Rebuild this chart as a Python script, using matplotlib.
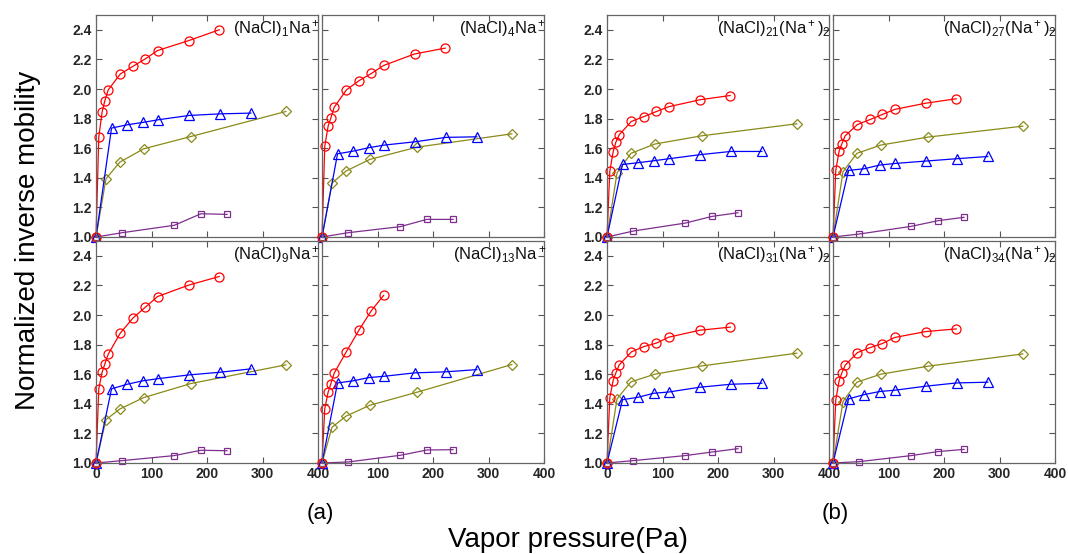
import numpy as np
import matplotlib.pyplot as plt

plt.rcParams['font.family'] = ['Liberation Sans', 'DejaVu Sans']
plt.rcParams['mathtext.default'] = 'regular'

# panel order: top row left->right, then bottom row left->right
titles = [r'(NaCl)$_1$Na$^+$', r'(NaCl)$_4$Na$^+$',
          r'(NaCl)$_{21}$(Na$^+$)$_2$', r'(NaCl)$_{27}$(Na$^+$)$_2$',
          r'(NaCl)$_9$Na$^+$', r'(NaCl)$_{13}$Na$^+$',
          r'(NaCl)$_{31}$(Na$^+$)$_2$', r'(NaCl)$_{34}$(Na$^+$)$_2$']

red_x = [0, 5, 11, 16, 22, 44, 67, 89, 111, 167, 222]
blue_x = [0, 28, 56, 84, 112, 167, 223, 279]
olive_x = [0, 18, 43, 86, 171, 342]
purple_x = [0, 47, 141, 189, 236]

red_y = [
    [1.0, 1.675, 1.844, 1.922, 1.994, 2.102, 2.154, 2.204, 2.26, 2.327, 2.40],
    [1.0, 1.614, 1.749, 1.805, 1.877, 1.994, 2.057, 2.105, 2.159, 2.237, 2.276],
    [1.0, 1.443, 1.574, 1.641, 1.691, 1.781, 1.814, 1.848, 1.880, 1.927, 1.956],
    [1.0, 1.450, 1.580, 1.630, 1.684, 1.760, 1.794, 1.828, 1.862, 1.904, 1.934],
    [1.0, 1.501, 1.613, 1.670, 1.735, 1.879, 1.981, 2.053, 2.125, 2.202, 2.260],
    [1.0, 1.368, 1.478, 1.537, 1.607, 1.753, 1.900, 2.030, 2.132],
    [1.0, 1.440, 1.557, 1.609, 1.663, 1.751, 1.787, 1.810, 1.850, 1.897, 1.918],
    [1.0, 1.426, 1.555, 1.609, 1.661, 1.746, 1.780, 1.807, 1.848, 1.888, 1.906],
]
blue_y = [
    [1.0, 1.736, 1.758, 1.774, 1.792, 1.821, 1.832, 1.837],
    [1.0, 1.562, 1.580, 1.603, 1.621, 1.643, 1.673, 1.677],
    [1.0, 1.490, 1.502, 1.515, 1.529, 1.556, 1.578, 1.578],
    [1.0, 1.450, 1.461, 1.486, 1.497, 1.513, 1.529, 1.544],
    [1.0, 1.501, 1.532, 1.555, 1.570, 1.595, 1.613, 1.636],
    [1.0, 1.541, 1.555, 1.577, 1.586, 1.609, 1.616, 1.631],
    [1.0, 1.428, 1.444, 1.471, 1.480, 1.512, 1.532, 1.539],
    [1.0, 1.433, 1.462, 1.483, 1.492, 1.519, 1.541, 1.546],
]
olive_y = [
    [1.0, 1.394, 1.506, 1.596, 1.679, 1.848],
    [1.0, 1.364, 1.445, 1.524, 1.607, 1.697],
    [1.0, 1.432, 1.565, 1.628, 1.684, 1.765],
    [1.0, 1.441, 1.565, 1.621, 1.675, 1.749],
    [1.0, 1.293, 1.365, 1.442, 1.537, 1.663],
    [1.0, 1.241, 1.316, 1.390, 1.478, 1.665],
    [1.0, 1.433, 1.548, 1.600, 1.656, 1.742],
    [1.0, 1.415, 1.546, 1.600, 1.654, 1.737],
]
purple_y = [
    [1.0, 1.029, 1.079, 1.157, 1.153],
    [1.0, 1.029, 1.070, 1.119, 1.119],
    [1.0, 1.040, 1.094, 1.139, 1.164],
    [1.0, 1.020, 1.072, 1.110, 1.133],
    [1.0, 1.016, 1.050, 1.086, 1.083],
    [1.0, 1.007, 1.052, 1.088, 1.090],
    [1.0, 1.016, 1.050, 1.074, 1.097],
    [1.0, 1.009, 1.050, 1.077, 1.092],
]

W, H = 1068, 554
fig = plt.figure(figsize=(W / 100, H / 100), dpi=100)

lefts = [96, 322, 607, 833]
tops = [15, 241]
aw, ah = 222, 222

for i in range(8):
    row, col = i // 4, i % 4
    ax = fig.add_axes([lefts[col] / W, 1 - (tops[row] + ah) / H, aw / W, ah / H])
    ax.plot(purple_x, purple_y[i], '-s', color='#7e2f8e', mfc='none', ms=4.5, lw=0.9, mew=0.9, clip_on=False)
    ax.plot(olive_x, olive_y[i], '-D', color='#8a8a1a', mfc='none', ms=5, lw=0.9, mew=0.9, clip_on=False)
    ax.plot(blue_x, blue_y[i], '-^', color='#0000ff', mfc='none', ms=6.5, lw=0.9, mew=0.9, clip_on=False)
    ax.plot(red_x[:len(red_y[i])], red_y[i], '-o', color='#ff0000', mfc='none', ms=6.5, lw=0.9, mew=0.9, clip_on=False)
    ax.set_xlim(0, 400)
    ax.set_ylim(1.0, 2.5)
    ax.set_xticks([0, 100, 200, 300, 400])
    ax.set_yticks(np.arange(1.0, 2.41, 0.2))
    ax.tick_params(direction='in', top=True, right=True, length=4, width=0.8,
                   color='#555555', labelsize=10, labelcolor='#262626', pad=3)
    for lab in ax.get_xticklabels() + ax.get_yticklabels():
        lab.set_fontweight('bold')
    for s in ax.spines.values():
        s.set_color('#666666')
        s.set_linewidth(0.9)
    if row == 0:
        ax.set_xticklabels([])
    elif col in (1, 3):
        ax.set_xticklabels(['', '100', '200', '300', '400'])
    if col in (1, 3):
        ax.set_yticklabels([])
    else:
        ax.set_yticklabels(['%.1f' % v for v in np.arange(1.0, 2.41, 0.2)])
        for lab in ax.get_yticklabels():
            lab.set_fontweight('bold')
    ax.text(1.01, 0.985, titles[i], transform=ax.transAxes, ha='right', va='top',
            fontsize=12, color='#111111')

fig.text(28 / W, 1 - 240 / H, 'Normalized inverse mobility', rotation=90,
         ha='center', va='center', fontsize=20)
fig.text(568 / W, 1 - 540 / H, 'Vapor pressure(Pa)', ha='center', va='center', fontsize=20)
fig.text(320 / W, 1 - 514 / H, '(a)', ha='center', va='center', fontsize=16)
fig.text(835 / W, 1 - 514 / H, '(b)', ha='center', va='center', fontsize=16)

fig.savefig('out.png', dpi=100)
